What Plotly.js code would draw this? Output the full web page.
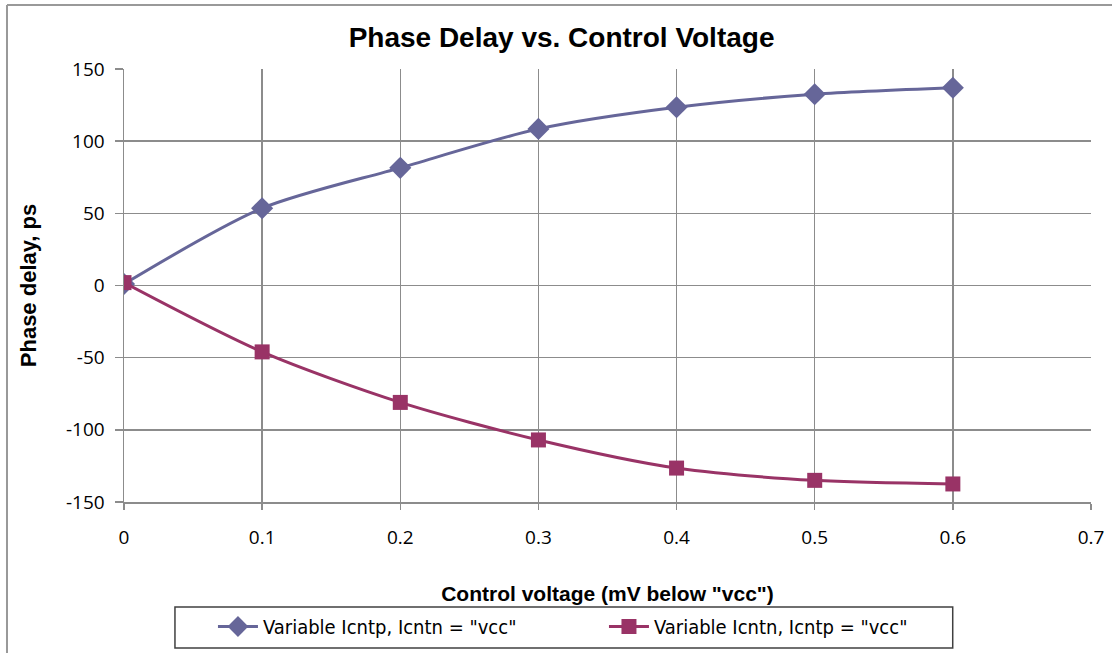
<!DOCTYPE html>
<html>
<head>
<meta charset="utf-8">
<script src="https://cdn.plot.ly/plotly-3.0.1.min.js"></script>
<style>html,body{margin:0;padding:0;background:#fff;}#chart{width:1112px;height:653px;}</style>
</head>
<body>
<div id="chart"></div>
<script>
const controlVoltage = [0, 0.1, 0.2, 0.3, 0.4, 0.5, 0.6];
const delayIcntp = [1, 53.5, 81.5, 108.5, 123.5, 132.5, 137];
const delayIcntn = [2, -46, -81, -107, -126.5, -135, -137.5];
const seriesNames = ['Variable Icntp, Icntn = "vcc"', 'Variable Icntn, Icntp = "vcc"'];
const xTickVals = [0, 0.1, 0.2, 0.3, 0.4, 0.5, 0.6, 0.7];
const xTickText = ['0', '0.1', '0.2', '0.3', '0.4', '0.5', '0.6', '0.7'];
const yTickVals = [-150, -100, -50, 0, 50, 100, 150];
const yTickText = ['-150', '-100', '-50', '0', '50', '100', '150'];

const traces = [
  {
    x: controlVoltage, y: delayIcntp, name: seriesNames[0],
    type: 'scatter', mode: 'lines+markers',
    line: {color: '#666699', width: 3, shape: 'spline', smoothing: 0.8},
    marker: {symbol: 'diamond', size: 17, color: '#666699'}
  },
  {
    x: controlVoltage, y: delayIcntn, name: seriesNames[1],
    type: 'scatter', mode: 'lines+markers',
    line: {color: '#993366', width: 3, shape: 'spline', smoothing: 0.8},
    marker: {symbol: 'square', size: 15, color: '#993366'}
  }
];

const tickFont = {family: 'Open Sans', size: 19, color: '#000'};
const titleFontFamily = 'Liberation Sans';
const layout = {
  width: 1112, height: 653,
  margin: {l: 124, r: 21, t: 69, b: 151, autoexpand: false},
  paper_bgcolor: '#fff', plot_bgcolor: '#fff',
  showlegend: true,
  title: {
    text: 'Phase Delay vs. Control Voltage',
    font: {family: titleFontFamily, size: 28, color: '#000', weight: 'bold'},
    x: 0.505, xref: 'container', xanchor: 'center',
    y: 1 - 37/653, yref: 'container', yanchor: 'middle'
  },
  xaxis: {
    range: [0, 0.7], tickvals: xTickVals, ticktext: xTickText,
    automargin: false,
    showgrid: true, gridcolor: '#8c8c8c', gridwidth: 1.5,
    showline: true, linecolor: '#8c8c8c', linewidth: 1.5, mirror: false,
    ticks: 'outside', ticklen: 6, tickcolor: '#8c8c8c', tickwidth: 1.5,
    tickfont: tickFont, ticklabelstandoff: 12,
    zeroline: false,
    title: {text: 'Control voltage (mV below "vcc")', standoff: 37,
      font: {family: titleFontFamily, size: 21, color: '#000', weight: 'bold'}}
  },
  yaxis: {
    range: [-150, 150], tickvals: yTickVals, ticktext: yTickText,
    automargin: false,
    showgrid: true, gridcolor: '#8c8c8c', gridwidth: 1.5,
    showline: true, linecolor: '#8c8c8c', linewidth: 1.5,
    ticks: 'outside', ticklen: 8, tickcolor: '#8c8c8c', tickwidth: 1.5,
    tickfont: tickFont, ticklabelstandoff: 6,
    zeroline: false,
    title: {text: 'Phase delay, ps', standoff: 23,
      font: {family: titleFontFamily, size: 22, color: '#000', weight: 'bold'}}
  },
  legend: {
    orientation: 'h', x: 0.092, xanchor: 'left', y: -0.2425, yanchor: 'top',
    borderwidth: 0, bgcolor: 'rgba(0,0,0,0)',
    font: {family: 'Liberation Sans Narrow, DejaVu Sans Condensed, sans-serif', size: 20, color: '#000'},
    itemwidth: 40, entrywidth: 336, tracegroupgap: 0
  },
  shapes: [
    {type: 'line', xref: 'paper', yref: 'paper', x0: -0.121, x1: 1.1, y0: 1.148, y1: 1.148,
      line: {color: '#999', width: 2}},
    {type: 'line', xref: 'paper', yref: 'paper', x0: -0.121, x1: -0.121, y0: 1.148, y1: -0.4,
      line: {color: '#999', width: 2}},
    {type: 'rect', xref: 'paper', yref: 'paper', x0: 0.0527, x1: 0.857, y0: -0.2425, y1: -0.337,
      line: {color: '#404040', width: 1.5}, fillcolor: '#fff', layer: 'below'}
  ]
};

Plotly.newPlot('chart', traces, layout, {displayModeBar: false, staticPlot: true});
</script>
</body>
</html>
